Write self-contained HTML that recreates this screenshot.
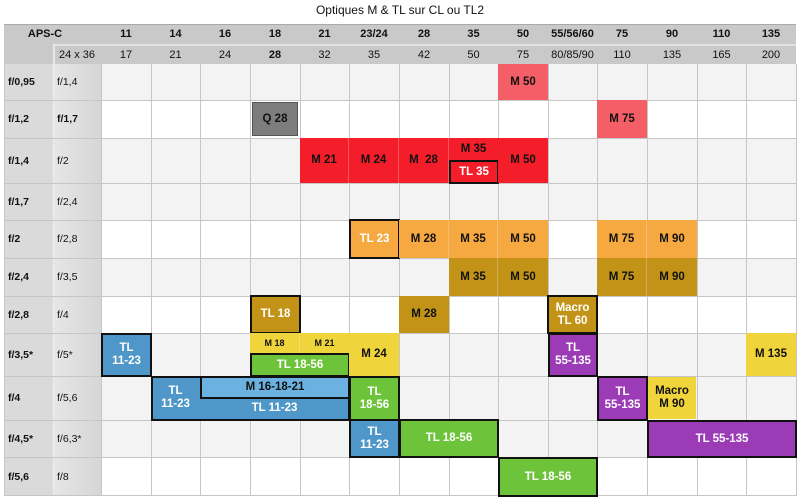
<!DOCTYPE html>
<html><head><meta charset="utf-8"><style>
body{margin:0;width:800px;height:500px;background:#fff;position:relative;overflow:hidden;font-family:"Liberation Sans",Arial,sans-serif;}
div{position:absolute;box-sizing:border-box;}
.t{left:0;width:800px;top:3px;text-align:center;font-size:12px;color:#111;}
.h{font-size:11px;font-weight:bold;color:#111;text-align:center;display:flex;align-items:center;justify-content:center;}
.n{font-weight:normal;}
.r{left:101px;width:695px;}
.v{width:1px;background:#c6c6c6;top:64px;height:432px;}
.hl{height:1px;background:#c6c6c6;left:4px;width:792px;}
.l{font-size:10.5px;font-weight:bold;color:#111;display:flex;align-items:center;padding-left:4px;}
.b{display:flex;align-items:center;justify-content:center;text-align:center;font-size:11.5px;font-weight:bold;color:#111;line-height:13px;}
.w{color:#fff;}
.k{border:2px solid #111;}
.R1{background:#f45e66;}.R2{background:#f41d2a;}.O{background:#f6a841;}.G{background:#c39318;}
.Y{background:#f0d43c;}.GR{background:#6dc33a;}.BL{background:#5097c9;}.P{background:#9b3bb6;}
.s{border-right:1px solid rgba(255,255,255,0.25);}
</style></head><body>
<div class="t">Optiques M &amp; TL sur CL ou TL2</div>
<div style="left:4px;top:24px;width:792px;height:40px;background:#c9c9c9"></div>
<div style="left:53px;top:44px;width:743px;height:2px;background:#e2e2e2"></div>
<div style="left:53px;top:44px;width:2px;height:20px;background:#e8e8e8"></div>
<div style="left:4px;top:24px;width:792px;height:1px;background:#a9a9a9"></div>
<div class="h" style="left:4px;top:24px;width:82px;height:20px">APS-C</div>
<div class="h" style="left:101px;top:24px;width:50px;height:20px">11</div>
<div class="h" style="left:151px;top:24px;width:49px;height:20px">14</div>
<div class="h" style="left:200px;top:24px;width:50px;height:20px">16</div>
<div class="h" style="left:250px;top:24px;width:50px;height:20px">18</div>
<div class="h" style="left:300px;top:24px;width:49px;height:20px">21</div>
<div class="h" style="left:349px;top:24px;width:50px;height:20px">23/24</div>
<div class="h" style="left:399px;top:24px;width:50px;height:20px">28</div>
<div class="h" style="left:449px;top:24px;width:49px;height:20px">35</div>
<div class="h" style="left:498px;top:24px;width:50px;height:20px">50</div>
<div class="h" style="left:548px;top:24px;width:49px;height:20px">55/56/60</div>
<div class="h" style="left:597px;top:24px;width:50px;height:20px">75</div>
<div class="h" style="left:647px;top:24px;width:50px;height:20px">90</div>
<div class="h" style="left:697px;top:24px;width:49px;height:20px">110</div>
<div class="h" style="left:746px;top:24px;width:50px;height:20px">135</div>
<div class="h n" style="left:53px;top:46px;width:48px;height:18px">24 x 36</div>
<div class="h n" style="left:101px;top:46px;width:50px;height:18px">17</div>
<div class="h n" style="left:151px;top:46px;width:49px;height:18px">21</div>
<div class="h n" style="left:200px;top:46px;width:50px;height:18px">24</div>
<div class="h" style="left:250px;top:46px;width:50px;height:18px">28</div>
<div class="h n" style="left:300px;top:46px;width:49px;height:18px">32</div>
<div class="h n" style="left:349px;top:46px;width:50px;height:18px">35</div>
<div class="h n" style="left:399px;top:46px;width:50px;height:18px">42</div>
<div class="h n" style="left:449px;top:46px;width:49px;height:18px">50</div>
<div class="h n" style="left:498px;top:46px;width:50px;height:18px">75</div>
<div class="h n" style="left:548px;top:46px;width:49px;height:18px">80/85/90</div>
<div class="h n" style="left:597px;top:46px;width:50px;height:18px">110</div>
<div class="h n" style="left:647px;top:46px;width:50px;height:18px">135</div>
<div class="h n" style="left:697px;top:46px;width:49px;height:18px">165</div>
<div class="h n" style="left:746px;top:46px;width:50px;height:18px">200</div>
<div class="r" style="top:64px;height:36px;background:#f3f3f3"></div>
<div class="r" style="top:100px;height:38px;background:#fff"></div>
<div class="r" style="top:138px;height:45px;background:#f3f3f3"></div>
<div class="r" style="top:183px;height:37px;background:#f3f3f3"></div>
<div class="r" style="top:220px;height:38px;background:#fff"></div>
<div class="r" style="top:258px;height:38px;background:#f3f3f3"></div>
<div class="r" style="top:296px;height:37px;background:#fff"></div>
<div class="r" style="top:333px;height:43px;background:#f3f3f3"></div>
<div class="r" style="top:376px;height:44px;background:#f3f3f3"></div>
<div class="r" style="top:420px;height:37px;background:#f3f3f3"></div>
<div class="r" style="top:457px;height:39px;background:#fff"></div>
<div style="left:4px;top:64px;width:49px;height:432px;background:#dadada"></div>
<div style="left:53px;top:64px;width:48px;height:432px;background:linear-gradient(90deg,#e6e6e6,#d6d6d6)"></div>
<div class="v" style="left:4px"></div><div class="v" style="left:53px;background:#eee"></div>
<div class="v" style="left:101px"></div><div class="v" style="left:151px"></div><div class="v" style="left:200px"></div>
<div class="v" style="left:250px"></div><div class="v" style="left:300px"></div><div class="v" style="left:349px"></div>
<div class="v" style="left:399px"></div><div class="v" style="left:449px"></div><div class="v" style="left:498px"></div>
<div class="v" style="left:548px"></div><div class="v" style="left:597px"></div><div class="v" style="left:647px"></div>
<div class="v" style="left:697px"></div><div class="v" style="left:746px"></div><div class="v" style="left:796px"></div>
<div class="hl" style="top:100px"></div><div class="hl" style="top:138px"></div><div class="hl" style="top:183px"></div>
<div class="hl" style="top:220px"></div><div class="hl" style="top:258px"></div><div class="hl" style="top:296px"></div>
<div class="hl" style="top:333px"></div><div class="hl" style="top:376px"></div><div class="hl" style="top:420px"></div>
<div class="hl" style="top:457px"></div><div class="hl" style="top:495px"></div>
<div class="l" style="left:4px;top:64px;height:36px">f/0,95</div><div class="l" style="left:53px;top:64px;height:36px;font-weight:normal">f/1,4</div>
<div class="l" style="left:4px;top:100px;height:38px">f/1,2</div><div class="l" style="left:53px;top:100px;height:38px">f/1,7</div>
<div class="l" style="left:4px;top:138px;height:45px">f/1,4</div><div class="l" style="left:53px;top:138px;height:45px;font-weight:normal">f/2</div>
<div class="l" style="left:4px;top:183px;height:37px">f/1,7</div><div class="l" style="left:53px;top:183px;height:37px;font-weight:normal">f/2,4</div>
<div class="l" style="left:4px;top:220px;height:38px">f/2</div><div class="l" style="left:53px;top:220px;height:38px;font-weight:normal">f/2,8</div>
<div class="l" style="left:4px;top:258px;height:38px">f/2,4</div><div class="l" style="left:53px;top:258px;height:38px;font-weight:normal">f/3,5</div>
<div class="l" style="left:4px;top:296px;height:37px">f/2,8</div><div class="l" style="left:53px;top:296px;height:37px;font-weight:normal">f/4</div>
<div class="l" style="left:4px;top:333px;height:43px">f/3,5*</div><div class="l" style="left:53px;top:333px;height:43px;font-weight:normal">f/5*</div>
<div class="l" style="left:4px;top:376px;height:44px">f/4</div><div class="l" style="left:53px;top:376px;height:44px;font-weight:normal">f/5,6</div>
<div class="l" style="left:4px;top:420px;height:37px">f/4,5*</div><div class="l" style="left:53px;top:420px;height:37px;font-weight:normal">f/6,3*</div>
<div class="l" style="left:4px;top:457px;height:39px">f/5,6</div><div class="l" style="left:53px;top:457px;height:39px;font-weight:normal">f/8</div>
<div class="b R1" style="left:498px;top:64px;width:50px;height:36px">M 50</div>
<div class="b" style="left:252px;top:102px;width:46px;height:34px;background:#7d7d7d;border:1px solid #555">Q 28</div>
<div class="b R1" style="left:597px;top:100px;width:50px;height:38px">M 75</div>
<div class="b R2 s" style="left:300px;top:138px;width:49px;height:45px">M 21</div>
<div class="b R2 s" style="left:349px;top:138px;width:50px;height:45px">M 24</div>
<div class="b R2 s" style="left:399px;top:138px;width:50px;height:45px">M&nbsp; 28</div>
<div class="b R2" style="left:449px;top:138px;width:49px;height:23px">M 35</div>
<div class="b R2 k w" style="left:449px;top:160px;width:50px;height:24px">TL 35</div>
<div class="b R2" style="left:498px;top:138px;width:50px;height:45px">M 50</div>
<div class="b O k w" style="left:349px;top:219px;width:51px;height:40px">TL 23</div>
<div class="b O s" style="left:399px;top:220px;width:50px;height:38px">M 28</div>
<div class="b O s" style="left:449px;top:220px;width:49px;height:38px">M 35</div>
<div class="b O" style="left:498px;top:220px;width:50px;height:38px">M 50</div>
<div class="b O s" style="left:597px;top:220px;width:50px;height:38px">M 75</div>
<div class="b O" style="left:647px;top:220px;width:50px;height:38px">M 90</div>
<div class="b G s" style="left:449px;top:258px;width:49px;height:38px">M 35</div>
<div class="b G" style="left:498px;top:258px;width:50px;height:38px">M 50</div>
<div class="b G s" style="left:597px;top:258px;width:50px;height:38px">M 75</div>
<div class="b G" style="left:647px;top:258px;width:50px;height:38px">M 90</div>
<div class="b G k w" style="left:250px;top:295px;width:51px;height:39px">TL 18</div>
<div class="b G" style="left:399px;top:296px;width:50px;height:37px">M 28</div>
<div class="b G k w" style="left:547px;top:295px;width:51px;height:39px">Macro<br>TL 60</div>
<div class="b BL k w" style="left:101px;top:333px;width:51px;height:44px">TL<br>11-23</div>
<div class="b Y s" style="left:250px;top:333px;width:50px;height:21px;font-size:9px">M 18</div>
<div class="b Y" style="left:300px;top:333px;width:49px;height:21px;font-size:9px">M 21</div>
<div class="b GR k w" style="left:250px;top:353px;width:100px;height:24px">TL 18-56</div>
<div class="b Y" style="left:349px;top:333px;width:50px;height:43px">M 24</div>
<div class="b P k w" style="left:548px;top:333px;width:50px;height:44px">TL<br>55-135</div>
<div class="b Y" style="left:746px;top:333px;width:50px;height:43px">M 135</div>
<div class="b BL k" style="left:151px;top:376px;width:199px;height:45px"></div>
<div class="b w" style="left:151px;top:376px;width:49px;height:44px">TL<br>11-23</div>
<div class="b" style="left:200px;top:376px;width:150px;height:23px;background:#6cb2e0;border:2px solid #111">M 16-18-21</div>
<div class="b w" style="left:200px;top:398px;width:149px;height:21px">TL 11-23</div>
<div class="b GR k w" style="left:349px;top:376px;width:51px;height:45px">TL<br>18-56</div>
<div class="b P k w" style="left:597px;top:376px;width:51px;height:45px">TL<br>55-135</div>
<div class="b Y" style="left:648px;top:377px;width:48px;height:42px">Macro<br>M 90</div>
<div class="b BL k w" style="left:349px;top:419px;width:51px;height:39px">TL<br>11-23</div>
<div class="b GR k w" style="left:399px;top:419px;width:100px;height:39px">TL 18-56</div>
<div class="b P k w" style="left:647px;top:420px;width:150px;height:38px">TL 55-135</div>
<div class="b GR k w" style="left:498px;top:457px;width:100px;height:40px">TL 18-56</div>
</body></html>
